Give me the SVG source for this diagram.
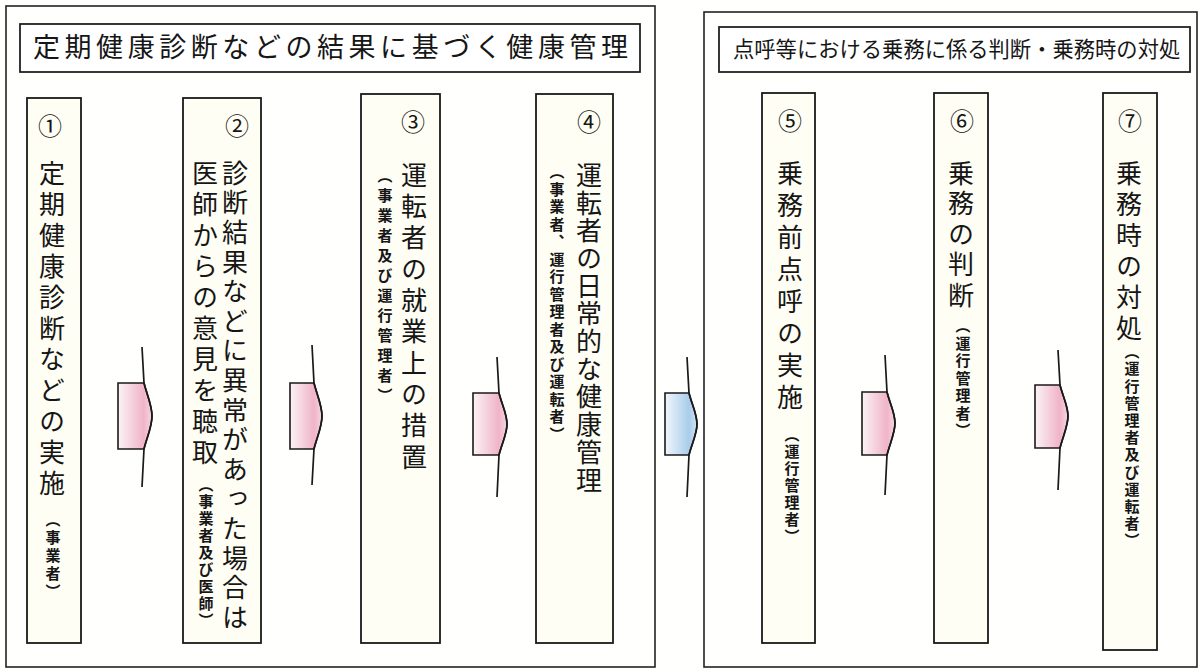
<svg xmlns="http://www.w3.org/2000/svg" width="1202" height="671" viewBox="0 0 1202 671">
<defs>
<linearGradient id="pink" x1="0" y1="0" x2="1" y2="0">
<stop offset="0" stop-color="#fbf3f6"/>
<stop offset="0.75" stop-color="#f0b4c8"/>
<stop offset="1" stop-color="#f6d6e0"/>
</linearGradient>
<linearGradient id="blue" x1="0" y1="0" x2="1" y2="0">
<stop offset="0" stop-color="#f1f7fb"/>
<stop offset="0.75" stop-color="#a9cdea"/>
<stop offset="1" stop-color="#cfe3f3"/>
</linearGradient>
<style>
.frame{fill:none;stroke:#222;stroke-width:1.6}
.title{fill:#fff;stroke:#222;stroke-width:1.8}
.box{fill:#fffef4;stroke:#1a1a1a;stroke-width:1.8}
.t{font-family:"Noto Sans CJK JP","Noto Sans CJK SC",sans-serif;fill:#161616}
.v{writing-mode:vertical-rl;font-family:"Noto Sans CJK JP","Noto Sans CJK SC",sans-serif;fill:#161616}
.main{font-size:26px}
.sub{font-size:15px;font-weight:bold}
.num{font-size:24px;text-anchor:middle}
.body{stroke:#1a1a1a;stroke-width:1.6}
.spine{fill:none;stroke:#1a1a1a;stroke-width:1.7}
</style>
</defs>
<rect width="1202" height="671" fill="#fffffd"/>

<g id="panel-left">
<rect class="frame" x="6" y="6" width="649" height="661"/>
<rect class="title" x="20" y="24" width="620" height="48"/>
<text class="t" x="33" y="57" font-size="27" textLength="595" lengthAdjust="spacing">定期健康診断などの結果に基づく健康管理</text>
</g>
<g id="panel-right">
<rect class="frame" x="704" y="12" width="493" height="655"/>
<rect class="title" x="719" y="27" width="471" height="45"/>
<text class="t" x="733" y="57" font-size="21.3">点呼等における乗務に係る判断・乗務時の対処</text>
</g>

<g id="step1">
<rect class="box" x="27" y="98" width="54" height="545"/>
<text class="t num" x="50" y="135">①</text>
<text class="v main" x="52" y="160" letter-spacing="5">定期健康診断などの実施</text>
<text class="v sub" x="53" y="512" letter-spacing="3">（事業者）</text>
</g>
<g id="step2">
<rect class="box" x="183" y="98" width="78" height="545"/>
<text class="t num" x="237" y="135">②</text>
<text class="v main" x="235" y="160" letter-spacing="3.6">診断結果などに異常があった場合は</text>
<text class="v main" x="205" y="160" letter-spacing="5">医師からの意見を聴取</text>
<text class="v sub" x="206" y="477" letter-spacing="2">（事業者及び医師）</text>
</g>
<g id="step3">
<rect class="box" x="361" y="94" width="79" height="549"/>
<text class="t num" x="413" y="131">③</text>
<text class="v main" x="414" y="162" letter-spacing="5.3">運転者の就業上の措置</text>
<text class="v sub" x="385" y="168" letter-spacing="5">（事業者及び運行管理者）</text>
</g>
<g id="step4">
<rect class="box" x="536" y="94" width="77" height="549"/>
<text class="t num" x="589" y="131">④</text>
<text class="v main" x="589" y="162" letter-spacing="1.7">運転者の日常的な健康管理</text>
<text class="v sub" x="557" y="164" letter-spacing="2.5">（事業者、運行管理者及び運転者）</text>
</g>
<g id="step5">
<rect class="box" x="762" y="93" width="53" height="550"/>
<text class="t num" x="790" y="130">⑤</text>
<text class="v main" x="790" y="160" letter-spacing="6">乗務前点呼の実施</text>
<text class="v sub" x="792" y="427" letter-spacing="2">（運行管理者）</text>
</g>
<g id="step6">
<rect class="box" x="934" y="93" width="54" height="550"/>
<text class="t num" x="962" y="130">⑥</text>
<text class="v main" x="961" y="160" letter-spacing="4.5">乗務の判断</text>
<text class="v sub" x="963" y="318" letter-spacing="2.5">（運行管理者）</text>
</g>
<g id="step7">
<rect class="box" x="1103" y="93" width="54" height="557"/>
<text class="t num" x="1130" y="130">⑦</text>
<text class="v main" x="1129" y="160" letter-spacing="5">乗務時の対処</text>
<text class="v sub" x="1132" y="344" letter-spacing="2.2">（運行管理者及び運転者）</text>
</g>

<g id="connectors">
<g id="arrow-1-2">
<path class="body" fill="url(#pink)" d="M118,383 H144 C147,395 152,405 152,416 C152,427 147,437 144,449 H118 Z"/>
<path class="spine" d="M142,347 L144,383 C147,395 152,405 152,416 C152,427 147,437 144,449 L142,487"/>
</g>
<g id="arrow-2-3">
<path class="body" fill="url(#pink)" d="M290,383 H314 C317,395 322,405 322,416 C322,427 317,437 314,449 H290 Z"/>
<path class="spine" d="M312,345 L314,383 C317,395 322,405 322,416 C322,427 317,437 314,449 L312,485"/>
</g>
<g id="arrow-3-4">
<path class="body" fill="url(#pink)" d="M473,393 H499 C502,405 507,414 507,424 C507,434 502,443 499,455 H473 Z"/>
<path class="spine" d="M497,357 L499,393 C502,405 507,414 507,424 C507,434 502,443 499,455 L497,497"/>
</g>
<g id="arrow-4-5">
<path class="body" fill="url(#blue)" d="M665,393 H689 C692,405 697,414 697,424 C697,434 692,443 689,455 H665 Z"/>
<path class="spine" d="M687,357 L689,393 C692,405 697,414 697,424 C697,434 692,443 689,455 L687,497"/>
</g>
<g id="arrow-5-6">
<path class="body" fill="url(#pink)" d="M862,392 H887 C890,404 895,413 895,423 C895,433 890,443 887,455 H862 Z"/>
<path class="spine" d="M885,355 L887,392 C890,404 895,413 895,423 C895,433 890,443 887,455 L885,495"/>
</g>
<g id="arrow-6-7">
<path class="body" fill="url(#pink)" d="M1035,385 H1060 C1063,397 1068,406 1068,416 C1068,426 1063,436 1060,448 H1035 Z"/>
<path class="spine" d="M1058,350 L1060,385 C1063,397 1068,406 1068,416 C1068,426 1063,436 1060,448 L1058,490"/>
</g>
</g>
</svg>
